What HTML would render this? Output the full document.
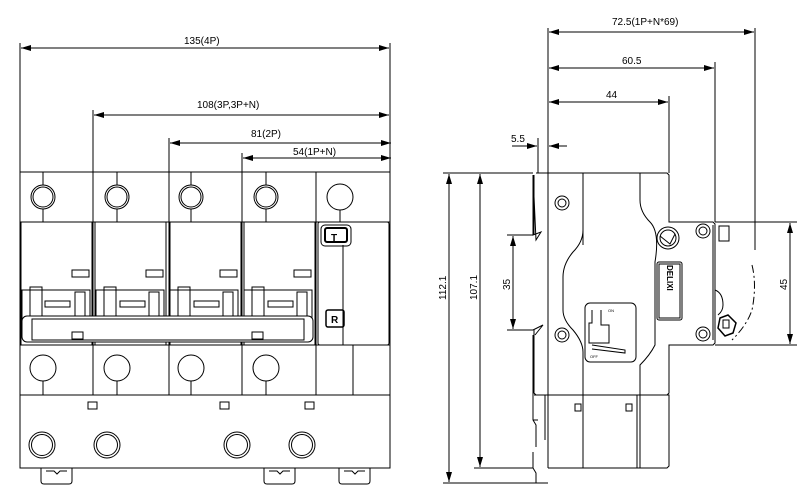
<!DOCTYPE html>
<html><head><meta charset="utf-8"><style>
html,body{margin:0;padding:0;background:#fff;}
svg{display:block;}
text{font-family:"Liberation Sans",sans-serif;font-size:10px;fill:#000;}
</style></head><body>
<svg width="809" height="497" viewBox="0 0 809 497" xmlns="http://www.w3.org/2000/svg">
<defs>
<marker id="a" viewBox="0 0 10 6" refX="10" refY="3" markerWidth="10" markerHeight="6" orient="auto-start-reverse" markerUnits="userSpaceOnUse"><path d="M0,0 L10,3 L0,6 z" fill="#000"/></marker>
</defs>
<g stroke="#000" stroke-width="1" fill="none">
<!-- LEFT VIEW dimension lines -->
<line x1="20" y1="43" x2="20" y2="172"/>
<line x1="390" y1="43" x2="390" y2="172"/>
<line x1="93" y1="110" x2="93" y2="172"/>
<line x1="169" y1="138" x2="169" y2="172"/>
<line x1="242" y1="153" x2="242" y2="172"/>
<line x1="21" y1="48" x2="389" y2="48" marker-start="url(#a)" marker-end="url(#a)"/>
<line x1="94" y1="115" x2="389" y2="115" marker-start="url(#a)" marker-end="url(#a)"/>
<line x1="170" y1="143" x2="391" y2="143" marker-start="url(#a)" marker-end="url(#a)"/>
<line x1="243" y1="158" x2="391" y2="158" marker-start="url(#a)" marker-end="url(#a)"/>
<!-- LEFT VIEW body -->
<rect x="20" y="172" width="370" height="296"/>
<line x1="20" y1="222" x2="390" y2="222"/>
<line x1="20" y1="345" x2="390" y2="345"/>
<line x1="20" y1="395" x2="390" y2="395"/>
<line x1="93" y1="172" x2="93" y2="395"/>
<line x1="169" y1="172" x2="169" y2="395"/>
<line x1="242" y1="172" x2="242" y2="395"/>
<line x1="316" y1="172" x2="316" y2="395"/>
<line x1="353" y1="345" x2="353" y2="395"/>
<!-- pole covers -->
<rect x="21" y="222" width="71" height="123"/>
<rect x="95" y="222" width="71" height="123"/>
<rect x="170" y="222" width="71" height="123"/>
<rect x="244" y="222" width="71" height="123"/>
<rect x="318" y="222" width="71" height="123" rx="2"/>
<line x1="343" y1="245" x2="343" y2="345"/>
<rect x="321" y="225" width="30" height="21" rx="4"/>
<rect x="325" y="228" width="22" height="14" rx="2" stroke-width="2"/>
<rect x="326" y="310" width="18" height="17" rx="2" stroke-width="1.5"/>
<!-- stubs -->
<g>
<rect x="72" y="270" width="17" height="7"/><rect x="146" y="270" width="17" height="7"/><rect x="220" y="270" width="17" height="7"/><rect x="294" y="270" width="17" height="7"/>
</g>
<!-- handles -->
<g>
<rect x="22" y="290" width="68" height="30"/><rect x="45" y="301" width="25" height="6"/><rect x="30" y="287" width="12" height="30"/><rect x="75" y="292" width="10" height="25"/>
<rect x="96" y="290" width="68" height="30"/><rect x="120" y="301" width="25" height="6"/><rect x="104" y="287" width="12" height="30"/><rect x="149" y="292" width="10" height="25"/>
<rect x="170" y="290" width="68" height="30"/><rect x="194" y="301" width="25" height="6"/><rect x="178" y="287" width="12" height="30"/><rect x="223" y="292" width="10" height="25"/>
<rect x="244" y="290" width="68" height="30"/><rect x="268" y="301" width="25" height="6"/><rect x="252" y="287" width="12" height="30"/><rect x="297" y="292" width="10" height="25"/>
</g>
<rect x="22" y="316" width="291" height="26" rx="5" fill="#fff"/>
<rect x="32" y="319" width="272" height="21" fill="#fff"/>
<rect x="72" y="332" width="11" height="7"/><rect x="252" y="332" width="11" height="7"/>
<!-- terminal circles -->
<g>
<circle cx="43" cy="197" r="12"/><circle cx="43" cy="197" r="10"/>
<circle cx="117" cy="197" r="12"/><circle cx="117" cy="197" r="10"/>
<circle cx="191" cy="197" r="12"/><circle cx="191" cy="197" r="10"/>
<circle cx="266" cy="197" r="12"/><circle cx="266" cy="197" r="10"/>
<circle cx="340" cy="197" r="13"/>
<line x1="43" y1="172" x2="43" y2="185"/><line x1="43" y1="209" x2="43" y2="222"/>
<line x1="117" y1="172" x2="117" y2="185"/><line x1="117" y1="209" x2="117" y2="222"/>
<line x1="191" y1="172" x2="191" y2="185"/><line x1="191" y1="209" x2="191" y2="222"/>
<line x1="266" y1="172" x2="266" y2="185"/><line x1="266" y1="209" x2="266" y2="222"/>
<line x1="340" y1="210" x2="340" y2="222"/>
<circle cx="43" cy="368" r="13"/><circle cx="117" cy="368" r="13"/><circle cx="191" cy="368" r="13"/><circle cx="266" cy="368" r="13"/>
<line x1="43" y1="381" x2="43" y2="395"/><line x1="117" y1="381" x2="117" y2="395"/><line x1="191" y1="381" x2="191" y2="395"/><line x1="266" y1="381" x2="266" y2="395"/>
<circle cx="42" cy="445" r="13"/><circle cx="42" cy="445" r="10.5"/>
<circle cx="107" cy="445" r="13"/><circle cx="107" cy="445" r="10.5"/>
<circle cx="237" cy="445" r="13"/><circle cx="237" cy="445" r="10.5"/>
<circle cx="302" cy="445" r="13"/><circle cx="302" cy="445" r="10.5"/>
</g>
<rect x="88" y="402" width="9" height="7"/><rect x="220" y="402" width="9" height="7"/><rect x="305" y="402" width="9" height="7"/>
<!-- clips -->
<path d="M41,468 v13 q0,3 3,3 h25 q3,0 3,-3 v-13"/><path d="M46,471 h8 l3,3 l3,-3 h7"/>
<path d="M264,468 v13 q0,3 3,3 h25 q3,0 3,-3 v-13"/><path d="M269,471 h8 l3,3 l3,-3 h7"/>
<path d="M339,468 v13 q0,3 3,3 h25 q3,0 3,-3 v-13"/><path d="M344,471 h8 l3,3 l3,-3 h7"/>

<!-- RIGHT VIEW dimensions -->
<line x1="548" y1="28" x2="548" y2="173"/>
<line x1="755" y1="28" x2="755" y2="250"/>
<line x1="715" y1="62" x2="715" y2="222"/>
<line x1="669" y1="96" x2="669" y2="173"/>
<line x1="538" y1="138" x2="538" y2="173"/>
<line x1="549" y1="32" x2="754" y2="32" marker-start="url(#a)" marker-end="url(#a)"/>
<line x1="549" y1="68" x2="714" y2="68" marker-start="url(#a)" marker-end="url(#a)"/>
<line x1="549" y1="102" x2="668" y2="102" marker-start="url(#a)" marker-end="url(#a)"/>
<line x1="512" y1="146" x2="537" y2="146" marker-end="url(#a)"/>
<line x1="567" y1="146" x2="549" y2="146" marker-end="url(#a)"/>
<line x1="512" y1="146" x2="527" y2="146"/>
<line x1="443" y1="173" x2="533" y2="173"/>
<line x1="443" y1="483" x2="548" y2="483"/>
<line x1="474" y1="468" x2="533" y2="468"/>
<line x1="449" y1="174" x2="449" y2="482" marker-start="url(#a)" marker-end="url(#a)"/>
<line x1="480" y1="174" x2="480" y2="467" marker-start="url(#a)" marker-end="url(#a)"/>
<line x1="507" y1="235" x2="533" y2="235"/>
<line x1="507" y1="330" x2="533" y2="330"/>
<line x1="513" y1="236" x2="513" y2="329" marker-start="url(#a)" marker-end="url(#a)"/>
<line x1="715" y1="222" x2="797" y2="222"/>
<line x1="715" y1="345" x2="797" y2="345"/>
<line x1="790" y1="223" x2="790" y2="344" marker-start="url(#a)" marker-end="url(#a)"/>
<!-- right body -->
<path d="M536,173 H667 l2,2 V222 H713 l2,2 V343 l-2,2 H669 V393 l-2,2 H536 l-2,-2 V330 M534,235 V175 z"/>
<path d="M533,175 V235 l8,-3 l-5,8 z"/>
<path d="M533,330 l10,-5 l-8,10"/>
<line x1="548" y1="173" x2="548" y2="468"/>
<line x1="533" y1="335" x2="533" y2="395"/>
<path d="M534,395 H669 V466 l-2,2 H548"/>
<line x1="583" y1="173" x2="583" y2="245"/>
<path d="M583,173 V230 q0,12 -10,22 q-10,12 -10,25 V310 q0,10 10,20 q10,12 10,22 V468"/>
<line x1="640" y1="173" x2="640" y2="200"/>
<path d="M640,200 q0,12 10,22 q10,10 5,40 V345 q-5,10 -15,20 V468"/>
<line x1="637" y1="395" x2="637" y2="468"/>
<path d="M533,395 V420 l3,5 V447 M533,452 V468 l3,5 V483 M533,420 h5"/>
<line x1="545" y1="395" x2="545" y2="440"/>
<circle cx="562" cy="203" r="7"/><circle cx="562" cy="203" r="4"/>
<circle cx="562" cy="335" r="7"/><circle cx="562" cy="335" r="4"/>
<rect x="585" y="303" width="51" height="59" rx="5"/>
<path d="M592,310 v13 h-3 v20 h20 v-18 h-8 v-15 M592,345 l33,5 v3 l-33,-4"/>
<rect x="575" y="404" width="6" height="7"/><rect x="626" y="404" width="6" height="7"/>
<rect x="657" y="262" width="25" height="58" rx="2"/>
<rect x="659" y="264" width="21" height="54"/>
<circle cx="668" cy="238" r="11"/><circle cx="668" cy="238" r="8"/>
<path d="M660,236 l10,8 l5,-10"/>
<circle cx="703" cy="231" r="7"/><circle cx="703" cy="231" r="4"/>
<circle cx="703" cy="334" r="7"/><circle cx="703" cy="334" r="4"/>
<rect x="719" y="226" width="10" height="15"/>
<path d="M713,225 V340"/>
<path d="M715,290 q8,3 8,15 q0,6 -5,10"/>
<path d="M720,318 l8,-3 l8,8 l-3,10 l-8,3 l-7,-8 z" stroke-width="1.5"/>
<rect x="723" y="320" width="6" height="8"/>
<path d="M752,265 q5,20 0,45 q-5,15 -20,30" stroke-dasharray="8,3,2,3"/>
</g>
<g>
<text x="184" y="44">135(4P)</text>
<text x="197" y="108">108(3P,3P+N)</text>
<text x="251" y="137">81(2P)</text>
<text x="293" y="155">54(1P+N)</text>
<text x="612" y="25">72.5(1P+N*69)</text>
<text x="622" y="64">60.5</text>
<text x="606" y="98">44</text>
<text x="511" y="142">5.5</text>
<text transform="translate(446,300) rotate(-90)">112.1</text>
<text transform="translate(477,300) rotate(-90)">107.1</text>
<text transform="translate(510,290) rotate(-90)">35</text>
<text transform="translate(787,290) rotate(-90)">45</text>
<text x="331" y="241" style="font-size:10px;font-weight:bold">T</text>
<text x="331" y="323" style="font-size:10px;font-weight:bold">R</text>
<text transform="translate(667,265) rotate(90)" style="font-size:8px;font-weight:bold">DELIXI</text>
<text x="608" y="312" style="font-size:4px">ON</text>
<text x="590" y="358" style="font-size:4px">OFF</text>
</g>
</svg>
</body></html>
